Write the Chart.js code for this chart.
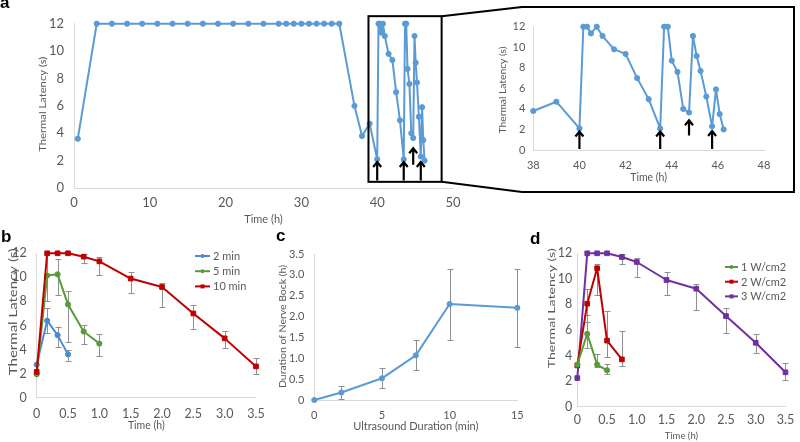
<!DOCTYPE html>
<html><head><meta charset="utf-8">
<script src="https://cdn.jsdelivr.net/npm/chart.js@4.4.1/dist/chart.umd.min.js"></script>
<style>
html,body{margin:0;padding:0;background:#fff;}
#wrap{position:relative;width:800px;height:442px;overflow:hidden;background:#fff;}
canvas{position:absolute;left:0;top:0;}
</style></head><body>
<div id="wrap">
<canvas id="cA" width="800" height="442"></canvas>
<canvas id="cI" width="800" height="442"></canvas>
<canvas id="cB" width="800" height="442"></canvas>
<canvas id="cC" width="800" height="442"></canvas>
<canvas id="cD" width="800" height="442"></canvas>
</div>
<script>
// ---------- DATA ----------
// Panel a: thermal latency over time (h)
const timeA = [0.5, 3, 5, 7, 9, 11, 13, 15, 17, 19, 21, 23, 25, 27, 28, 29, 30, 31, 32, 33, 34, 35,
  37, 38, 39, 40, 40.17, 40.33, 40.5, 40.75, 41, 41.5, 42, 42.5, 43, 43.5, 43.67, 43.83, 44, 44.25,
  44.5, 44.75, 44.92, 45.08, 45.25, 45.5, 45.75, 45.92, 46.08, 46.25];
const latencyA = [3.6, 12, 12, 12, 12, 12, 12, 12, 12, 12, 12, 12, 12, 12, 12, 12, 12, 12, 12, 12, 12, 12,
  6.0, 3.8, 4.7, 2.1, 12, 12, 11.35, 12, 11.1, 9.8, 9.35, 7.0, 4.95, 2.1, 12, 12, 8.7, 7.6,
  4.0, 3.65, 11.1, 9.15, 7.7, 5.2, 2.3, 5.9, 3.5, 2.0];
const insetStart = 38;
const arrowTimes = [40, 43.5, 44.75, 45.75];
const arrowTipMain = [1.9, 1.9, 2.9, 1.9];
const arrowBaseMain = [0.55, 0.55, 1.7, 0.55];
const arrowTipInset = [1.8, 1.8, 2.9, 1.85];
const arrowBaseInset = [0.1, 0.1, 1.4, 0.1];

// Panel b
const labelsB = ['2 min', '5 min', '10 min'];
const timeB2 = [0, 0.167, 0.333, 0.5];
const latB2 = [2.75, 6.4, 5.2, 3.6];
const hiB2 = [null, 7.45, 5.85, 3.95];
const loB2 = [null, 5.4, 4.25, 3.05];
const timeB5 = [0, 0.167, 0.333, 0.5, 0.75, 1];
const latB5 = [1.95, 10.15, 10.25, 7.75, 5.5, 4.5];
const hiB5 = [null, 12.0, 11.5, 8.9, 6.05, 5.3];
const loB5 = [null, 8.05, 8.55, 4.65, 4.5, 3.45];
const timeB10 = [0, 0.167, 0.333, 0.5, 0.75, 1, 1.5, 2, 2.5, 3, 3.5];
const latB10 = [2.15, 12, 12, 12, 11.72, 11.33, 9.9, 9.2, 7.0, 4.93, 2.6];
const hiB10 = [null, null, null, null, 11.95, 11.66, 10.47, 9.56, 7.67, 5.57, 3.3];
const loB10 = [null, null, null, null, 11.16, 10.19, 8.67, 7.56, 5.7, 4.1, 1.97];

// Panel c
const usDuration = [0, 2, 5, 7.5, 10, 15];
const blockDuration = [0, 0.18, 0.52, 1.07, 2.30, 2.21];
const hiC = [null, 0.34, 0.76, 1.43, 3.15, 3.13];
const loC = [null, 0.03, 0.29, 0.71, 1.44, 1.26];

// Panel d
const labelsD = ['1 W/cm2', '2 W/cm2', '3 W/cm2'];
const timeD1 = [0, 0.167, 0.333, 0.5];
const latD1 = [3.3, 5.7, 3.3, 2.85];
const hiD1 = [null, 7.17, 4.12, 3.34];
const loD1 = [null, 4.56, 3.13, 2.53];
const timeD2 = [0, 0.167, 0.333, 0.5, 0.75];
const latD2 = [3.23, 8.06, 10.83, 5.17, 3.7];
const hiD2 = [null, 9.2, 11.17, 7.5, 5.92];
const loD2 = [null, 6.6, 8.74, 3.91, 3.2];
const timeD3 = [0, 0.167, 0.333, 0.5, 0.75, 1, 1.5, 2, 2.5, 3, 3.5];
const latD3 = [2.24, 12, 12, 12, 11.71, 11.32, 9.91, 9.23, 7.09, 5.0, 2.69];
const hiD3 = [null, null, null, null, 11.97, 11.66, 10.5, 9.57, 7.69, 5.66, 3.42];
const loD3 = [null, null, null, null, 11.2, 10.17, 8.74, 7.59, 5.8, 4.2, 2.1];

// ---------- STYLE ----------
const FONT = 'Lato, "Liberation Sans", Arial, sans-serif';
const TXT = '#595959';
const AXIS = '#d9d9d9';
const BLUE = '#5B9BD5', BLUE2 = '#4A8CD2', GREEN = '#5A9A3A', RED = '#C00000', PURPLE = '#7030A0';
Chart.defaults.font.family = FONT;

function ds(label, xs, ys, color, style, hi, lo, order) {
  return {
    label, data: xs.map((x, i) => ({x, y: ys[i]})),
    borderColor: color, backgroundColor: color,
    pointBackgroundColor: color, pointBorderColor: color,
    borderWidth: 2, pointRadius: style === 'rect' ? 3.3 : 2.6, pointBorderWidth: 1,
    pointStyle: style, tension: 0, clip: false, borderJoinStyle: 'round',
    errHi: hi, errLo: lo, order: order || 0
  };
}
function yScale(min, max, step, tickSize, tickPad, W) {
  return {
    type: 'linear', position: 'left', min, max,
    ticks: {stepSize: step, padding: tickPad, color: TXT, font: {size: tickSize}},
    grid: {display: false, drawTicks: false},
    border: {display: true, color: AXIS, width: 1},
    title: {display: false},
    afterFit(s) { s.width = W; }
  };
}
function xScale(min, max, step, tickSize, tickPad, H, title, titleSize, titlePad) {
  return {
    type: 'linear', position: 'bottom', min, max,
    ticks: {stepSize: step, padding: tickPad, color: TXT, font: {size: tickSize}, autoSkip: false, maxRotation: 0},
    grid: {display: false, drawTicks: false},
    border: {display: true, color: AXIS, width: 1},
    title: {display: true, text: title, color: TXT, font: {size: titleSize, lineHeight: 1}, padding: {top: 0, bottom: titlePad}},
    afterFit(s) { s.height = H; }
  };
}

// ---------- PLUGINS ----------
const errorBars = {
  id: 'errorBars',
  beforeDatasetsDraw(chart) {
    const {ctx, scales: {x, y}} = chart;
    ctx.save();
    ctx.strokeStyle = '#8f8f8f'; ctx.lineWidth = 1;
    chart.data.datasets.forEach(d => {
      if (!d.errHi) return;
      d.data.forEach((p, i) => {
        const h = d.errHi[i], l = d.errLo[i];
        if (h == null) return;
        const px = Math.round(x.getPixelForValue(p.x)) + 0.5;
        const yh = Math.round(y.getPixelForValue(h)) + 0.5, yl = Math.round(y.getPixelForValue(l)) + 0.5;
        ctx.beginPath();
        ctx.moveTo(px, yh); ctx.lineTo(px, yl);
        ctx.moveTo(px - 3, yh); ctx.lineTo(px + 3, yh);
        ctx.moveTo(px - 3, yl); ctx.lineTo(px + 3, yl);
        ctx.stroke();
      });
    });
    ctx.restore();
  }
};
const boxLegend = {
  id: 'boxLegend',
  afterDatasetsDraw(chart, args, o) {
    if (!o || o.x == null) return;
    const ctx = chart.ctx;
    ctx.save();
    chart.data.datasets.forEach((d, i) => {
      const y = o.y + i * o.dy;
      ctx.strokeStyle = d.borderColor; ctx.lineWidth = 2;
      ctx.beginPath(); ctx.moveTo(o.x, y); ctx.lineTo(o.x + o.len, y); ctx.stroke();
      ctx.fillStyle = d.borderColor;
      if (d.pointStyle === 'rect') ctx.fillRect(o.x + o.len / 2 - 2, y - 2, 4, 4);
      else { ctx.beginPath(); ctx.arc(o.x + o.len / 2, y, 2, 0, Math.PI * 2); ctx.fill(); }
      ctx.fillStyle = TXT; ctx.font = o.size + 'px ' + FONT;
      ctx.textBaseline = 'middle'; ctx.textAlign = 'left';
      ctx.fillText(d.label, o.x + o.len + 3, y + 0.5);
    });
    ctx.restore();
  }
};
// y-axis title drawn rotated and stretched along its length (source figure is stretched vertically)
const yTitle = {
  id: 'yTitle',
  afterDraw(chart, args, o) {
    if (!o || !o.text) return;
    const ctx = chart.ctx;
    ctx.save();
    ctx.font = o.size + 'px ' + FONT;
    const w = ctx.measureText(o.text).width;
    const sx = o.length / w;
    ctx.translate(o.cx, o.cy);
    ctx.rotate(-Math.PI / 2);
    ctx.scale(sx, 1);
    ctx.fillStyle = TXT; ctx.textAlign = 'center'; ctx.textBaseline = 'middle';
    ctx.fillText(o.text, 0, 0);
    ctx.restore();
  }
};
const arrows = {
  id: 'arrows',
  afterDatasetsDraw(chart, args, o) {
    if (!o || !o.times) return;
    const {ctx, scales: {x, y}} = chart;
    ctx.save();
    ctx.strokeStyle = '#000'; ctx.lineWidth = 2.2; ctx.lineCap = 'butt';
    o.times.forEach((t, i) => {
      const px = x.getPixelForValue(t), yt = y.getPixelForValue(o.tips[i]), yb = y.getPixelForValue(o.bases[i]);
      ctx.beginPath();
      ctx.moveTo(px, yb); ctx.lineTo(px, yt + 1);
      ctx.moveTo(px - 4, yt + 5); ctx.lineTo(px, yt); ctx.lineTo(px + 4, yt + 5);
      ctx.stroke();
    });
    ctx.restore();
  }
};
const callout = {
  id: 'callout',
  afterDraw(chart, args, o) {
    if (!o || !o.box) return;
    const {ctx, scales: {x, y}} = chart;
    const b = o.box;
    const L = x.getPixelForValue(b.xMin), R = x.getPixelForValue(b.xMax);
    const T = y.getPixelForValue(b.yMax), B = y.getPixelForValue(b.yMin);
    ctx.save();
    ctx.strokeStyle = '#000'; ctx.lineWidth = 2;
    ctx.strokeRect(L, T, R - L, B - T);
    const f = o.frame;
    ctx.beginPath();
    ctx.moveTo(R, T); ctx.lineTo(f.left, f.top); ctx.lineTo(f.right, f.top);
    ctx.lineTo(f.right, f.bottom); ctx.lineTo(f.left, f.bottom); ctx.lineTo(R, B);
    ctx.stroke();
    ctx.fillStyle = '#000'; ctx.font = 'bold 17px "Liberation Sans", Arial, sans-serif';
    ctx.textBaseline = 'alphabetic'; ctx.textAlign = 'left';
    o.letters.forEach(l => ctx.fillText(l.t, l.x, l.y));
    ctx.restore();
  }
};

function build(id, datasets, xs, ys, padding, pluginOpts) {
  return new Chart(document.getElementById(id), {
    type: 'line',
    data: {datasets},
    options: {
      responsive: false, animation: false, devicePixelRatio: 1,
      layout: {padding},
      plugins: Object.assign({legend: {display: false}, tooltip: {enabled: false}}, pluginOpts || {}),
      scales: {x: xs, y: ys}
    },
    plugins: [errorBars, boxLegend, arrows, callout, yTitle]
  });
}

// ---------- CHARTS ----------
// Panel a main
build('cA',
  [ds('Latency', timeA, latencyA, BLUE, 'circle')],
  xScale(0, 50, 10, 13, 7.2, 40, 'Time (h)', 11, 3.5),
  yScale(0, 12, 2, 13, 10, 44),
  {left: 30, top: 23.7, right: 347, bottom: 214},
  {
    yTitle: {text: 'Thermal Latency (s)', size: 9.5, length: 95, cx: 43, cy: 104.2},
    arrows: {times: arrowTimes, tips: arrowTipMain, bases: arrowBaseMain},
    callout: {
      box: {xMin: 38.85, xMax: 48.5, yMin: 0.45, yMax: 12.55},
      frame: {left: 522, top: 7, right: 794, bottom: 192},
      letters: [{t: 'a', x: 0, y: 8}, {t: 'b', x: 1, y: 242}, {t: 'c', x: 276, y: 241}, {t: 'd', x: 530, y: 244}]
    }
  });

// Panel a inset
const timeI = timeA.filter(t => t >= insetStart);
const latI = latencyA.filter((v, i) => timeA[i] >= insetStart);
build('cI',
  [ds('Latency', timeI, latI, BLUE, 'circle')],
  xScale(38, 48, 2, 11, 9.1, 36, 'Time (h)', 10.5, 2.75),
  yScale(0, 12, 2, 11, 8, 40),
  {left: 493.3, top: 26.7, right: 36, bottom: 256},
  {
    yTitle: {text: 'Thermal Latency (s)', size: 9.5, length: 87, cx: 502.5, cy: 90},
    arrows: {times: arrowTimes, tips: arrowTipInset, bases: arrowBaseInset}
  });

// Panel b
build('cB',
  [ds(labelsB[0], timeB2, latB2, BLUE2, 'circle', hiB2, loB2, 2),
   ds(labelsB[1], timeB5, latB5, GREEN, 'circle', hiB5, loB5, 1),
   ds(labelsB[2], timeB10, latB10, RED, 'rect', hiB10, loB10, 0)],
  xScale(0, 3.5, 0.5, 12.5, 8.8, 40, 'Time (h)', 10.5, 6.75),
  yScale(0, 12, 2, 12.5, 10, 30),
  {left: 6.7, top: 253.3, right: 544, bottom: 4.3},
  {
    yTitle: {text: 'Thermal Latency (s)', size: 10.5, length: 127, cx: 13.3, cy: 311.7},
    boxLegend: {x: 195, y: 256, dy: 15.2, len: 15, size: 11}
  });

// Panel c
build('cC',
  [ds('Duration', usDuration, blockDuration, BLUE, 'circle', hiC, loC)],
  xScale(0, 15, 5, 11, 8.4, 40, 'Ultrasound Duration (min)', 11, 7.8),
  yScale(0, 3.5, 0.5, 11, 10, 40),
  {left: 274.3, top: 254, right: 282.7, bottom: 2},
  {yTitle: {text: 'Duration of Nerve Bock (h)', size: 10, length: 123, cx: 282.7, cy: 326.5}});

// Panel d
build('cD',
  [ds(labelsD[0], timeD1, latD1, GREEN, 'circle', hiD1, loD1, 0),
   ds(labelsD[1], timeD2, latD2, RED, 'rect', hiD2, loD2, 1),
   ds(labelsD[2], timeD3, latD3, PURPLE, 'rect', hiD3, loD3, 2)],
  xScale(0, 3.5, 0.5, 12.5, 5.8, 35.3, 'Time (h)', 9.5, 1.55),
  yScale(0, 12, 2, 12.5, 5, 40),
  {left: 537.3, top: 253.3, right: 6.3, bottom: 0},
  {
    yTitle: {text: 'Thermal Latency (s)', size: 10, length: 120, cx: 552, cy: 308.3},
    boxLegend: {x: 725, y: 267, dy: 14.7, len: 13, size: 11}
  });
</script>
</body></html>
